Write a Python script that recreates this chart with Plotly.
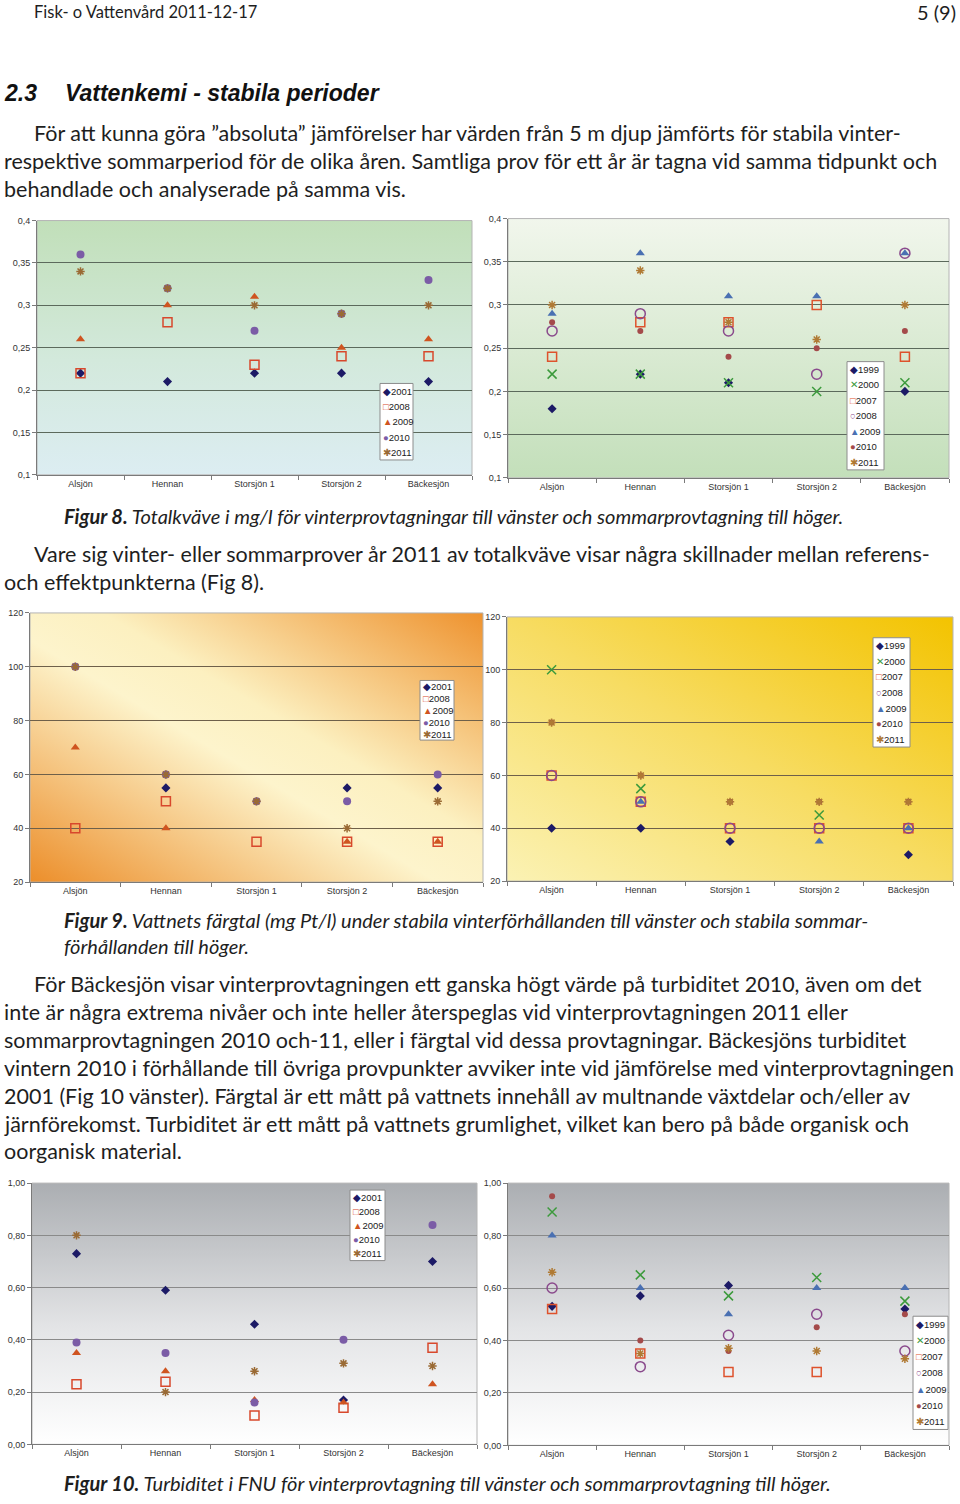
import base64
import plotly.graph_objects as go

W, H = 960, 1504

CATEGORIES = ["Alsjön", "Hennan", "Storsjön 1", "Storsjön 2", "Bäckesjön"]
WINTER_YEARS = ["2001", "2008", "2009", "2010", "2011"]
SUMMER_YEARS = ["1999", "2000", "2007", "2008", "2009", "2010", "2011"]

# Figur 8 - Totalkväve (mg/l), vinter
TN_WINTER_2001 = [0.22, 0.21, 0.22, 0.22, 0.21]
TN_WINTER_2008 = [0.22, 0.28, 0.23, 0.24, 0.24]
TN_WINTER_2009 = [0.26, 0.30, 0.31, 0.25, 0.26]
TN_WINTER_2010 = [0.36, 0.32, 0.27, 0.29, 0.33]
TN_WINTER_2011 = [0.34, 0.32, 0.30, 0.29, 0.30]
# Figur 8 - Totalkväve (mg/l), sommar
TN_SUMMER_1999 = [0.18, 0.22, 0.21, None, 0.20]
TN_SUMMER_2000 = [0.22, 0.22, 0.21, 0.20, 0.21]
TN_SUMMER_2007 = [0.24, 0.28, 0.28, 0.30, 0.24]
TN_SUMMER_2008 = [0.27, 0.29, 0.27, 0.22, 0.36]
TN_SUMMER_2009 = [0.29, 0.36, 0.31, 0.31, 0.36]
TN_SUMMER_2010 = [0.28, 0.27, 0.24, 0.25, 0.27]
TN_SUMMER_2011 = [0.30, 0.34, 0.28, 0.26, 0.30]

# Figur 9 - Färgtal (mg Pt/l), vinter
COL_WINTER_2001 = [None, 55, None, 55, 55]
COL_WINTER_2008 = [40, 50, 35, 35, 35]
COL_WINTER_2009 = [70, 40, None, 35, 35]
COL_WINTER_2010 = [100, 60, 50, 50, 60]
COL_WINTER_2011 = [100, 60, 50, 40, 50]
# Figur 9 - Färgtal (mg Pt/l), sommar
COL_SUMMER_1999 = [40, 40, 35, None, 30]
COL_SUMMER_2000 = [100, 55, None, 45, None]
COL_SUMMER_2007 = [60, 50, 40, 40, 40]
COL_SUMMER_2008 = [60, 50, 40, 40, 40]
COL_SUMMER_2009 = [None, 50, None, 35, 40]
COL_SUMMER_2010 = [80, 60, 50, 50, 50]
COL_SUMMER_2011 = [80, 60, 50, 50, 50]

# Figur 10 - Turbiditet (FNU), vinter
TURB_WINTER_2001 = [0.73, 0.59, 0.46, 0.17, 0.70]
TURB_WINTER_2008 = [0.23, 0.24, 0.11, 0.14, 0.37]
TURB_WINTER_2009 = [0.35, 0.28, 0.17, 0.16, 0.23]
TURB_WINTER_2010 = [0.39, 0.35, 0.16, 0.40, 0.84]
TURB_WINTER_2011 = [0.80, 0.20, 0.28, 0.31, 0.30]
# Figur 10 - Turbiditet (FNU), sommar
TURB_SUMMER_1999 = [0.53, 0.57, 0.61, None, 0.52]
TURB_SUMMER_2000 = [0.89, 0.65, 0.57, 0.64, 0.55]
TURB_SUMMER_2007 = [0.52, 0.35, 0.28, 0.28, None]
TURB_SUMMER_2008 = [0.60, 0.30, 0.42, 0.50, 0.36]
TURB_SUMMER_2009 = [0.80, 0.60, 0.50, 0.60, 0.60]
TURB_SUMMER_2010 = [0.95, 0.40, 0.36, 0.45, 0.50]
TURB_SUMMER_2011 = [0.66, 0.35, 0.37, 0.36, 0.33]

Y_TICKS_TN = [0.1, 0.15, 0.2, 0.25, 0.3, 0.35, 0.4]
Y_TICKS_COL = [20, 40, 60, 80, 100, 120]
Y_TICKS_TURB = [0.0, 0.2, 0.4, 0.6, 0.8, 1.0]

# ---------------- styles ----------------
WINTER_STYLE = {
    "2001": dict(symbol="diamond", color="#1c1a66", size=7, glyph="◆"),
    "2008": dict(symbol="square-open", color="#d8482c", size=9, glyph="□"),
    "2009": dict(symbol="triangle-up", color="#cf5420", size=8, glyph="▲"),
    "2010": dict(symbol="circle", color="#7b5ca6", size=8, glyph="●"),
    "2011": dict(symbol="asterisk-open", color="#9a6a34", size=7, glyph="✱"),
}
SUMMER_STYLE = {
    "1999": dict(symbol="diamond", color="#1c1a66", size=7, glyph="◆"),
    "2000": dict(symbol="x-thin-open", color="#3c9a3c", size=9, glyph="✕"),
    "2007": dict(symbol="square-open", color="#de522c", size=9, glyph="□"),
    "2008": dict(symbol="circle-open", color="#8a4a8c", size=10, glyph="○"),
    "2009": dict(symbol="triangle-up", color="#4a70b2", size=8, glyph="▲"),
    "2010": dict(symbol="circle", color="#a44a4a", size=6, glyph="●"),
    "2011": dict(symbol="asterisk-open", color="#b07a34", size=7, glyph="✱"),
}


def grad(stops, x1, y1, x2, y2):
    s = "".join(f'<stop offset="{o}" stop-color="{c}"/>' for o, c in stops)
    svg = ('<svg xmlns="http://www.w3.org/2000/svg" width="100" height="100" '
           'viewBox="0 0 100 100" preserveAspectRatio="none"><defs>'
           f'<linearGradient id="g" x1="{x1}" y1="{y1}" x2="{x2}" y2="{y2}">{s}'
           '</linearGradient></defs><rect width="100" height="100" fill="url(#g)"/></svg>')
    return "data:image/svg+xml;base64," + base64.b64encode(svg.encode()).decode()


BG_8L = grad([(0, "#c1dfb9"), (0.55, "#d3e9dc"), (1, "#dcedf2")], 0, 0, 0, 1)
BG_8R = grad([(0, "#f1f6ec"), (1, "#c3dfba")], 0, 0, 0, 1)
BG_9L = grad([(0, "#ec8e2a"), (0.45, "#fdf4cc"), (0.58, "#fcf0c0"), (1, "#ee922e")], 0, 1, 1, 0)
BG_9R = grad([(0, "#fbf2b4"), (0.5, "#f7dc62"), (1, "#f3c300")], 0, 1, 1, 0)
BG_10 = grad([(0, "#abaeb2"), (0.55, "#e3e4e6"), (1, "#ffffff")], 0, 0, 0, 1)

CHARTS = [
    dict(box=(37, 217, 472, 473), years=WINTER_YEARS, style=WINTER_STYLE,
         series=[TN_WINTER_2001, TN_WINTER_2008, TN_WINTER_2009, TN_WINTER_2010, TN_WINTER_2011],
         yrange=(0.1, 0.4), ticks=Y_TICKS_TN, fmt="", bg=BG_8L, grid="#5c6a5c",
         legend=(380, 381, 413, 458)),
    dict(box=(508, 215, 949, 476), years=SUMMER_YEARS, style=SUMMER_STYLE,
         series=[TN_SUMMER_1999, TN_SUMMER_2000, TN_SUMMER_2007, TN_SUMMER_2008,
                 TN_SUMMER_2009, TN_SUMMER_2010, TN_SUMMER_2011],
         yrange=(0.1, 0.4), ticks=Y_TICKS_TN, fmt="", bg=BG_8R, grid="#5c6a5c",
         legend=(847, 359, 884, 468)),
    dict(box=(30, 612, 483, 883), years=WINTER_YEARS, style=WINTER_STYLE,
         series=[COL_WINTER_2001, COL_WINTER_2008, COL_WINTER_2009, COL_WINTER_2010, COL_WINTER_2011],
         yrange=(20, 120), ticks=Y_TICKS_COL, fmt="", bg=BG_9L, grid="#6e604a",
         legend=(420, 680, 454, 740)),
    dict(box=(507, 616, 953, 882), years=SUMMER_YEARS, style=SUMMER_STYLE,
         series=[COL_SUMMER_1999, COL_SUMMER_2000, COL_SUMMER_2007, COL_SUMMER_2008,
                 COL_SUMMER_2009, COL_SUMMER_2010, COL_SUMMER_2011],
         yrange=(20, 120), ticks=Y_TICKS_COL, fmt="", bg=BG_9R, grid="#6e604a",
         legend=(873, 637, 910, 747)),
    dict(box=(32, 1186, 477, 1449), years=WINTER_YEARS, style=WINTER_STYLE,
         series=[TURB_WINTER_2001, TURB_WINTER_2008, TURB_WINTER_2009, TURB_WINTER_2010, TURB_WINTER_2011],
         yrange=(0, 1), ticks=Y_TICKS_TURB, fmt=".2f", bg=BG_10, grid="#8a8a8a",
         legend=(350, 1193, 385, 1264)),
    dict(box=(508, 1186, 949, 1450), years=SUMMER_YEARS, style=SUMMER_STYLE,
         series=[TURB_SUMMER_1999, TURB_SUMMER_2000, TURB_SUMMER_2007, TURB_SUMMER_2008,
                 TURB_SUMMER_2009, TURB_SUMMER_2010, TURB_SUMMER_2011],
         yrange=(0, 1), ticks=Y_TICKS_TURB, fmt=".2f", bg=BG_10, grid="#8a8a8a",
         legend=(913, 1320, 948, 1434)),
]

TEXT_LINES = [
    ("Fisk- o Vattenvård 2011-12-17", 34, 11, "header", "left"),
    ("5 (9)", 956, 11, "header2", "right"),
    ("2.3", 4, 93, "heading", "left"),
    ("Vattenkemi - stabila perioder", 65, 93, "heading", "left"),
    ("För att kunna göra ”absoluta” jämförelser har värden från 5 m djup jämförts för stabila vinter-", 34, 133, "body", "left"),
    ("respektive sommarperiod för de olika åren. Samtliga prov för ett år är tagna vid samma tidpunkt och", 4, 161, "body", "left"),
    ("behandlade och analyserade på samma vis.", 4, 189, "body", "left"),
    ("<b>Figur 8.</b> Totalkväve i mg/l för vinterprovtagningar till vänster och sommarprovtagning till höger.", 64, 517, "caption", "left"),
    ("Vare sig vinter- eller sommarprover år 2011 av totalkväve visar några skillnader mellan referens-", 34, 557, "body", "left"),
    ("och effektpunkterna (Fig 8).", 4, 585, "body", "left"),
    ("<b>Figur 9.</b> Vattnets färgtal (mg Pt/l) under stabila vinterförhållanden till vänster och stabila sommar-", 64, 924, "caption", "left"),
    ("förhållanden till höger.", 64, 950, "caption", "left"),
    ("För Bäckesjön visar vinterprovtagningen ett ganska högt värde på turbiditet 2010, även om det", 34, 990, "body", "left"),
    ("inte är några extrema nivåer och inte heller återspeglas vid vinterprovtagningen 2011 eller", 4, 1018, "body", "left"),
    ("sommarprovtagningen 2010 och-11, eller i färgtal vid dessa provtagningar. Bäckesjöns turbiditet", 4, 1046, "body", "left"),
    ("vintern 2010 i förhållande till övriga provpunkter avviker inte vid jämförelse med vinterprovtagningen", 4, 1074, "body", "left"),
    ("2001 (Fig 10 vänster). Färgtal är ett mått på vattnets innehåll av multnande växtdelar och/eller av", 4, 1102, "body", "left"),
    ("järnförekomst. Turbiditet är ett mått på vattnets grumlighet, vilket kan bero på både organisk och", 4, 1130, "body", "left"),
    ("oorganisk material.", 4, 1158, "body", "left"),
    ("<b>Figur 10.</b> Turbiditet i FNU för vinterprovtagning till vänster och sommarprovtagning till höger.", 64, 1491, "caption", "left"),
]

TEXT_FONTS = {
    "header": dict(family="Lato", size=16.5, color="#1e1e1e"),
    "header2": dict(family="Lato", size=20, color="#1e1e1e"),
    "heading": dict(family="Liberation Sans", size=23, color="#111111"),
    "body": dict(family="Lato", size=21.5, color="#1e1e1e"),
    "caption": dict(family="Lato", size=20, color="#1e1e1e"),
}
TEXT_SHIFT = {"header": -4, "header2": -4, "heading": -4, "body": -4, "caption": -3}

TICK_FONT = dict(family="Liberation Sans", size=9, color="#333333")

fig = go.Figure()
layout = dict(width=W, height=H, margin=dict(l=0, r=0, t=0, b=0, pad=0),
              paper_bgcolor="white", plot_bgcolor="rgba(0,0,0,0)",
              separators=", ", showlegend=False, images=[], shapes=[], annotations=[])


def px_x(v):
    return v / W


def px_y(v):
    return 1 - v / H


for i, ch in enumerate(CHARTS):
    n = i + 1
    suf = "" if n == 1 else str(n)
    x0, y0, x1, y1 = ch["box"]
    layout["xaxis" + suf] = dict(
        domain=[px_x(x0), px_x(x1)], anchor="y" + suf, type="category",
        categoryorder="array", categoryarray=CATEGORIES, range=[-0.5, 4.5],
        showline=True, linecolor="#7a7a7a", linewidth=1, ticks="outside",
        tickson="boundaries", ticklen=4, tickcolor="#7a7a7a", showgrid=False,
        tickfont=TICK_FONT, fixedrange=True)
    layout["yaxis" + suf] = dict(
        domain=[px_y(y1), px_y(y0)], anchor="x" + suf, range=list(ch["yrange"]),
        tickvals=ch["ticks"], tickformat=ch["fmt"], showline=True, linecolor="#7a7a7a",
        linewidth=1, ticks="outside", ticklen=4, tickcolor="#7a7a7a", showgrid=True,
        gridcolor=ch["grid"], gridwidth=1, zeroline=False, tickfont=TICK_FONT, fixedrange=True)
    layout["images"].append(dict(
        source=ch["bg"], xref="paper", yref="paper", x=px_x(x0), y=px_y(y0),
        sizex=(x1 - x0) / W, sizey=(y1 - y0) / H, sizing="stretch", layer="below",
        xanchor="left", yanchor="top"))
    layout["shapes"].append(dict(
        type="rect", xref="paper", yref="paper", x0=px_x(x0), x1=px_x(x1),
        y0=px_y(y1), y1=px_y(y0), line=dict(color="#b4b4b4", width=1), layer="below"))

    for year, vals in zip(ch["years"], ch["series"]):
        st = ch["style"][year]
        open_sym = st["symbol"].endswith("open")
        fig.add_trace(go.Scatter(
            x=CATEGORIES, y=vals, mode="markers", name=year,
            xaxis="x" + suf, yaxis="y" + suf, cliponaxis=False,
            marker=dict(symbol=st["symbol"], size=st["size"], color=st["color"],
                        line=dict(color=st["color"], width=1.5 if open_sym else 0))))

    # legend box
    lx0, ly0, lx1, ly1 = ch["legend"]
    layout["shapes"].append(dict(
        type="rect", xref="paper", yref="paper", x0=px_x(lx0), x1=px_x(lx1),
        y0=px_y(ly1), y1=px_y(ly0), fillcolor="white",
        line=dict(color="#8c8c8c", width=1), layer="above"))
    step = (ly1 - ly0) / len(ch["years"])
    for k, year in enumerate(ch["years"]):
        st = ch["style"][year]
        layout["annotations"].append(dict(
            xref="paper", yref="paper", x=px_x(lx0 + 1), y=px_y(ly0 + (k + 0.5) * step),
            xanchor="left", yanchor="middle", showarrow=False,
            text=f'<span style="color:{st["color"]}">{st["glyph"]}</span>{year}',
            font=dict(family="Liberation Sans", size=9.5, color="#222222")))

for text, x, y, kind, anchor in TEXT_LINES:
    t = text
    if kind == "caption":
        t = "<i>" + text + "</i>"
    if kind == "heading":
        t = "<b><i>" + text + "</i></b>"
    layout["annotations"].append(dict(
        xref="paper", yref="paper", x=px_x(x), y=px_y(y + TEXT_SHIFT[kind]), xanchor=anchor,
        yanchor="middle", showarrow=False, text=t, font=TEXT_FONTS[kind],
        borderpad=0, borderwidth=0))

fig.update_layout(**layout)
fig.write_html("out.html")
